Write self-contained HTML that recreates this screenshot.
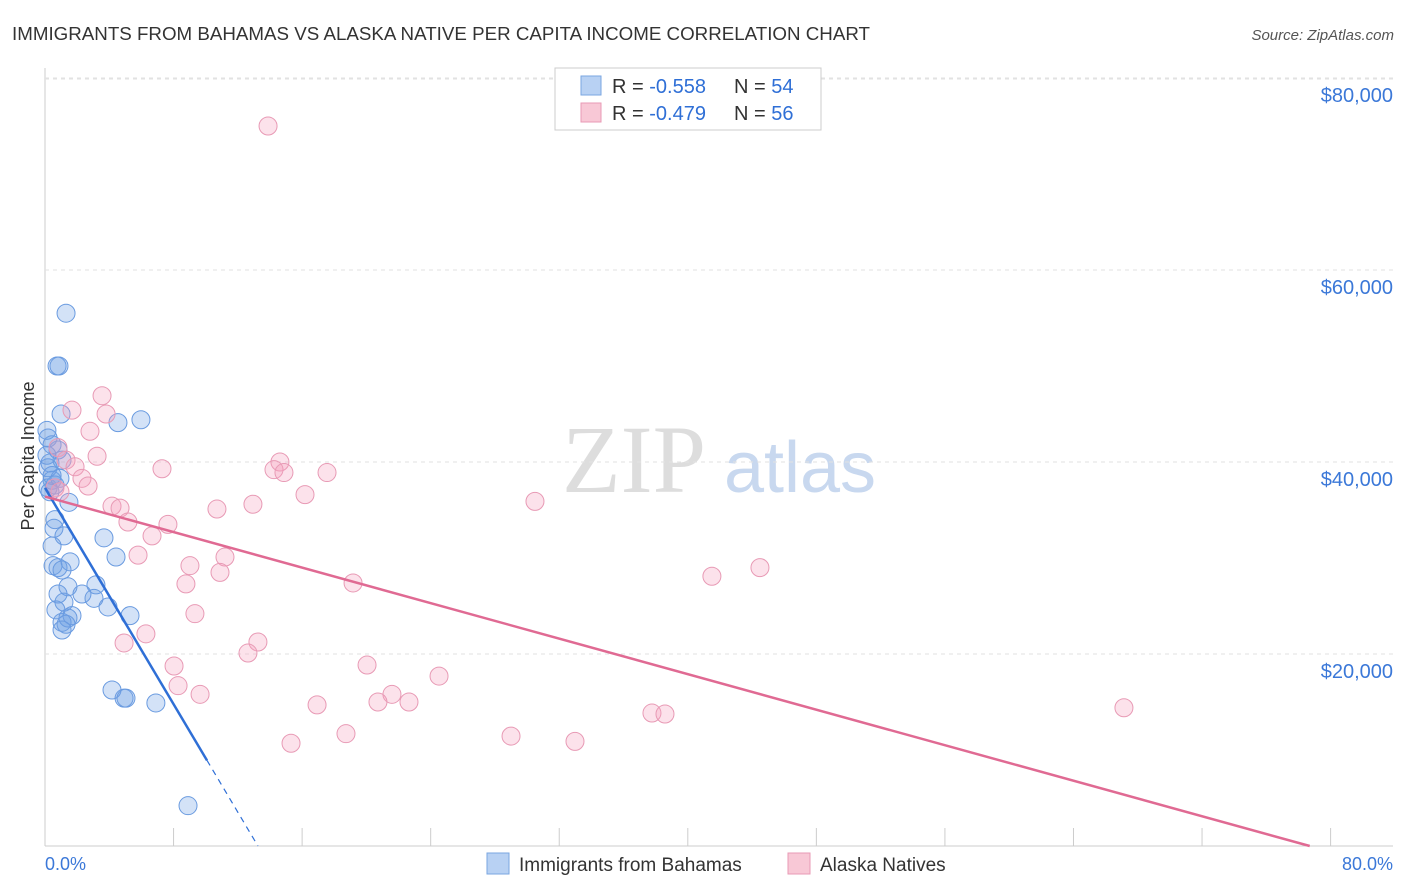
<!DOCTYPE html>
<html><head><meta charset="utf-8"><style>
body{margin:0;background:#fff;font-family:"Liberation Sans",sans-serif;}
#wrap{position:relative;width:1406px;height:892px;overflow:hidden;}
</style></head><body>
<div id="wrap">
<svg id="svg" width="1406" height="892" xmlns="http://www.w3.org/2000/svg">
<text x="12" y="40" font-size="18" fill="#333" textLength="858" lengthAdjust="spacingAndGlyphs">IMMIGRANTS FROM BAHAMAS VS ALASKA NATIVE PER CAPITA INCOME CORRELATION CHART</text>
<text x="1394" y="40" font-size="15" fill="#555" text-anchor="end" font-style="italic">Source: ZipAtlas.com</text>
<text x="634" y="492" font-size="96" fill="#ddd" font-family="Liberation Serif,serif" text-anchor="middle">ZIP</text>
<text x="800" y="492" font-size="72" fill="#c8d8ef" text-anchor="middle">atlas</text>
<text x="34" y="456" font-size="18" fill="#333" text-anchor="middle" transform="rotate(-90 34 456)">Per Capita Income</text>
<g id="grid"></g><g id="marks"></g>
<g>
<rect x="555" y="68" width="266" height="62" fill="#fff" stroke="#ccc"/>
<rect x="581" y="76" width="20" height="19" fill="#b8d1f3" stroke="#7aa6e0"/>
<rect x="581" y="103" width="20" height="19" fill="#f8c8d6" stroke="#e89ab5"/>
<text x="612" y="93" font-size="20" fill="#333">R = <tspan fill="#2f6fd6">-0.558</tspan></text>
<text x="734" y="93" font-size="20" fill="#333">N = <tspan fill="#2f6fd6">54</tspan></text>
<text x="612" y="120" font-size="20" fill="#333">R = <tspan fill="#2f6fd6">-0.479</tspan></text>
<text x="734" y="120" font-size="20" fill="#333">N = <tspan fill="#2f6fd6">56</tspan></text>
</g>
<g>
<rect x="487" y="853" width="22" height="21" fill="#b8d1f3" stroke="#7aa6e0"/>
<text x="519" y="871" font-size="19" fill="#333">Immigrants from Bahamas</text>
<rect x="788" y="853" width="22" height="21" fill="#f8c8d6" stroke="#e89ab5"/>
<text x="820" y="871" font-size="19" fill="#333">Alaska Natives</text>
</g>
<text x="45" y="870" font-size="18" fill="#3b78d8">0.0%</text>
<text x="1393" y="870" font-size="18" fill="#3b78d8" text-anchor="end">80.0%</text>
</svg>
</div>
<script>
const yTicks=[20000,40000,60000,80000];
const yTickLabels=["$20,000","$40,000","$60,000","$80,000"];
const blueX=[1.31,0.75,0.87,1.0,4.54,5.97,0.19,0.44,0.81,0.31,1.06,0.19,0.44,0.62,0.19,0.31,1.49,0.62,0.56,1.18,3.67,0.44,4.42,0.5,0.81,1.56,1.06,3.17,1.43,2.3,0.81,3.05,1.18,3.92,5.29,0.68,1.68,1.06,1.43,1.31,1.06,4.17,4.92,5.04,6.9,8.9,0.12,0.12,0.44,0.93];
const blueY=[55500,50000,50000,45000,44100,44400,42500,41800,41250,39900,40200,39400,38100,37600,37300,36900,35800,34000,33100,32300,32100,31250,30100,29200,29000,29600,28750,27200,27000,26250,26250,25800,25400,24900,24000,24600,24000,23300,23750,23100,22500,16250,15400,15400,14900,4200,43300,40700,38600,38300];
const pinkX=[13.88,3.55,3.8,1.68,2.8,0.81,3.24,1.31,1.87,2.3,2.68,0.62,0.93,7.28,14.62,14.25,14.87,17.55,16.18,30.49,4.17,4.67,10.7,12.94,5.16,7.65,6.66,5.79,11.2,9.02,10.89,8.77,19.17,41.5,44.49,9.33,6.28,13.25,4.92,12.63,8.03,20.04,24.52,8.28,9.65,21.59,20.72,22.65,16.93,18.73,37.77,38.58,67.14,15.31,29.0,32.98];
const pinkY=[75000,46900,45000,45400,43200,41500,40600,40200,39500,38300,37500,37300,36900,39300,40000,39200,38900,38900,36600,35900,35400,35200,35100,35600,33750,33500,32300,30300,30100,29200,28500,27300,27400,28100,29000,24200,22100,21250,21150,20100,18750,18850,17700,16700,15800,15800,15000,15000,14700,11700,13850,13750,14400,10700,11450,10900];
const blueTrend=[37300,0,13.25,10.08];
const pinkTrend=[36400,0,78.7];
const X=p=>45+p*16.07, Y=v=>846-v*0.0096;
const NS="http://www.w3.org/2000/svg";
const grid=document.getElementById('grid'), marks=document.getElementById('marks');
function mk(tag,attrs,parent){const e=document.createElementNS(NS,tag);for(const k in attrs)e.setAttribute(k,attrs[k]);parent.appendChild(e);return e;}
let l=mk('line',{x1:45,y1:68,x2:45,y2:846,stroke:'#ccc'},grid);


l=mk('line',{x1:45,y1:846,x2:1393,y2:846,stroke:'#ccc'},grid);


l=mk('line',{x1:45,y1:79,x2:1393,y2:79,stroke:'#e2e2e2','stroke-dasharray':'4,4'},grid);


yTicks.forEach((v,i)=>{
 const g=mk('line',{x1:45,y1:Y(v),x2:1393,y2:Y(v),stroke:'#e2e2e2','stroke-dasharray':'4,4'},grid);
 
 
 const t=mk('text',{x:1393,y:Y(v)+24,'font-size':20,fill:'#3b78d8','text-anchor':'end'},grid);
 t.textContent=yTickLabels[i];
 
 
});
for(let i=1;i<=10;i++){
 const t=mk('line',{x1:X(i*8),y1:828,x2:X(i*8),y2:846,stroke:'#ccc'},grid);
 
 
}
blueX.forEach((x,i)=>{
 const c=mk('circle',{cx:X(x),cy:Y(blueY[i]),r:9,fill:'rgba(110,160,230,0.3)',stroke:'#6a9be0','stroke-width':1},marks);
 
 
});
pinkX.forEach((x,i)=>{
 const c=mk('circle',{cx:X(x),cy:Y(pinkY[i]),r:9,fill:'rgba(245,160,190,0.3)',stroke:'#e89ab5','stroke-width':1},marks);
 
 
});
const bv=x=>blueTrend[0]*(1-x/blueTrend[2]);
l=mk('line',{x1:X(0),y1:Y(bv(0)),x2:X(blueTrend[3]),y2:Y(bv(blueTrend[3])),stroke:'#2f6fd6','stroke-width':2.5},marks);


l=mk('line',{x1:X(blueTrend[3]),y1:Y(bv(blueTrend[3])),x2:X(blueTrend[2]),y2:Y(0),stroke:'#2f6fd6','stroke-width':1.2,'stroke-dasharray':'6,5'},marks);


l=mk('line',{x1:X(0),y1:Y(pinkTrend[0]),x2:X(pinkTrend[2]),y2:Y(0),stroke:'#e06a93','stroke-width':2.5},marks);


</script>
</body></html>
